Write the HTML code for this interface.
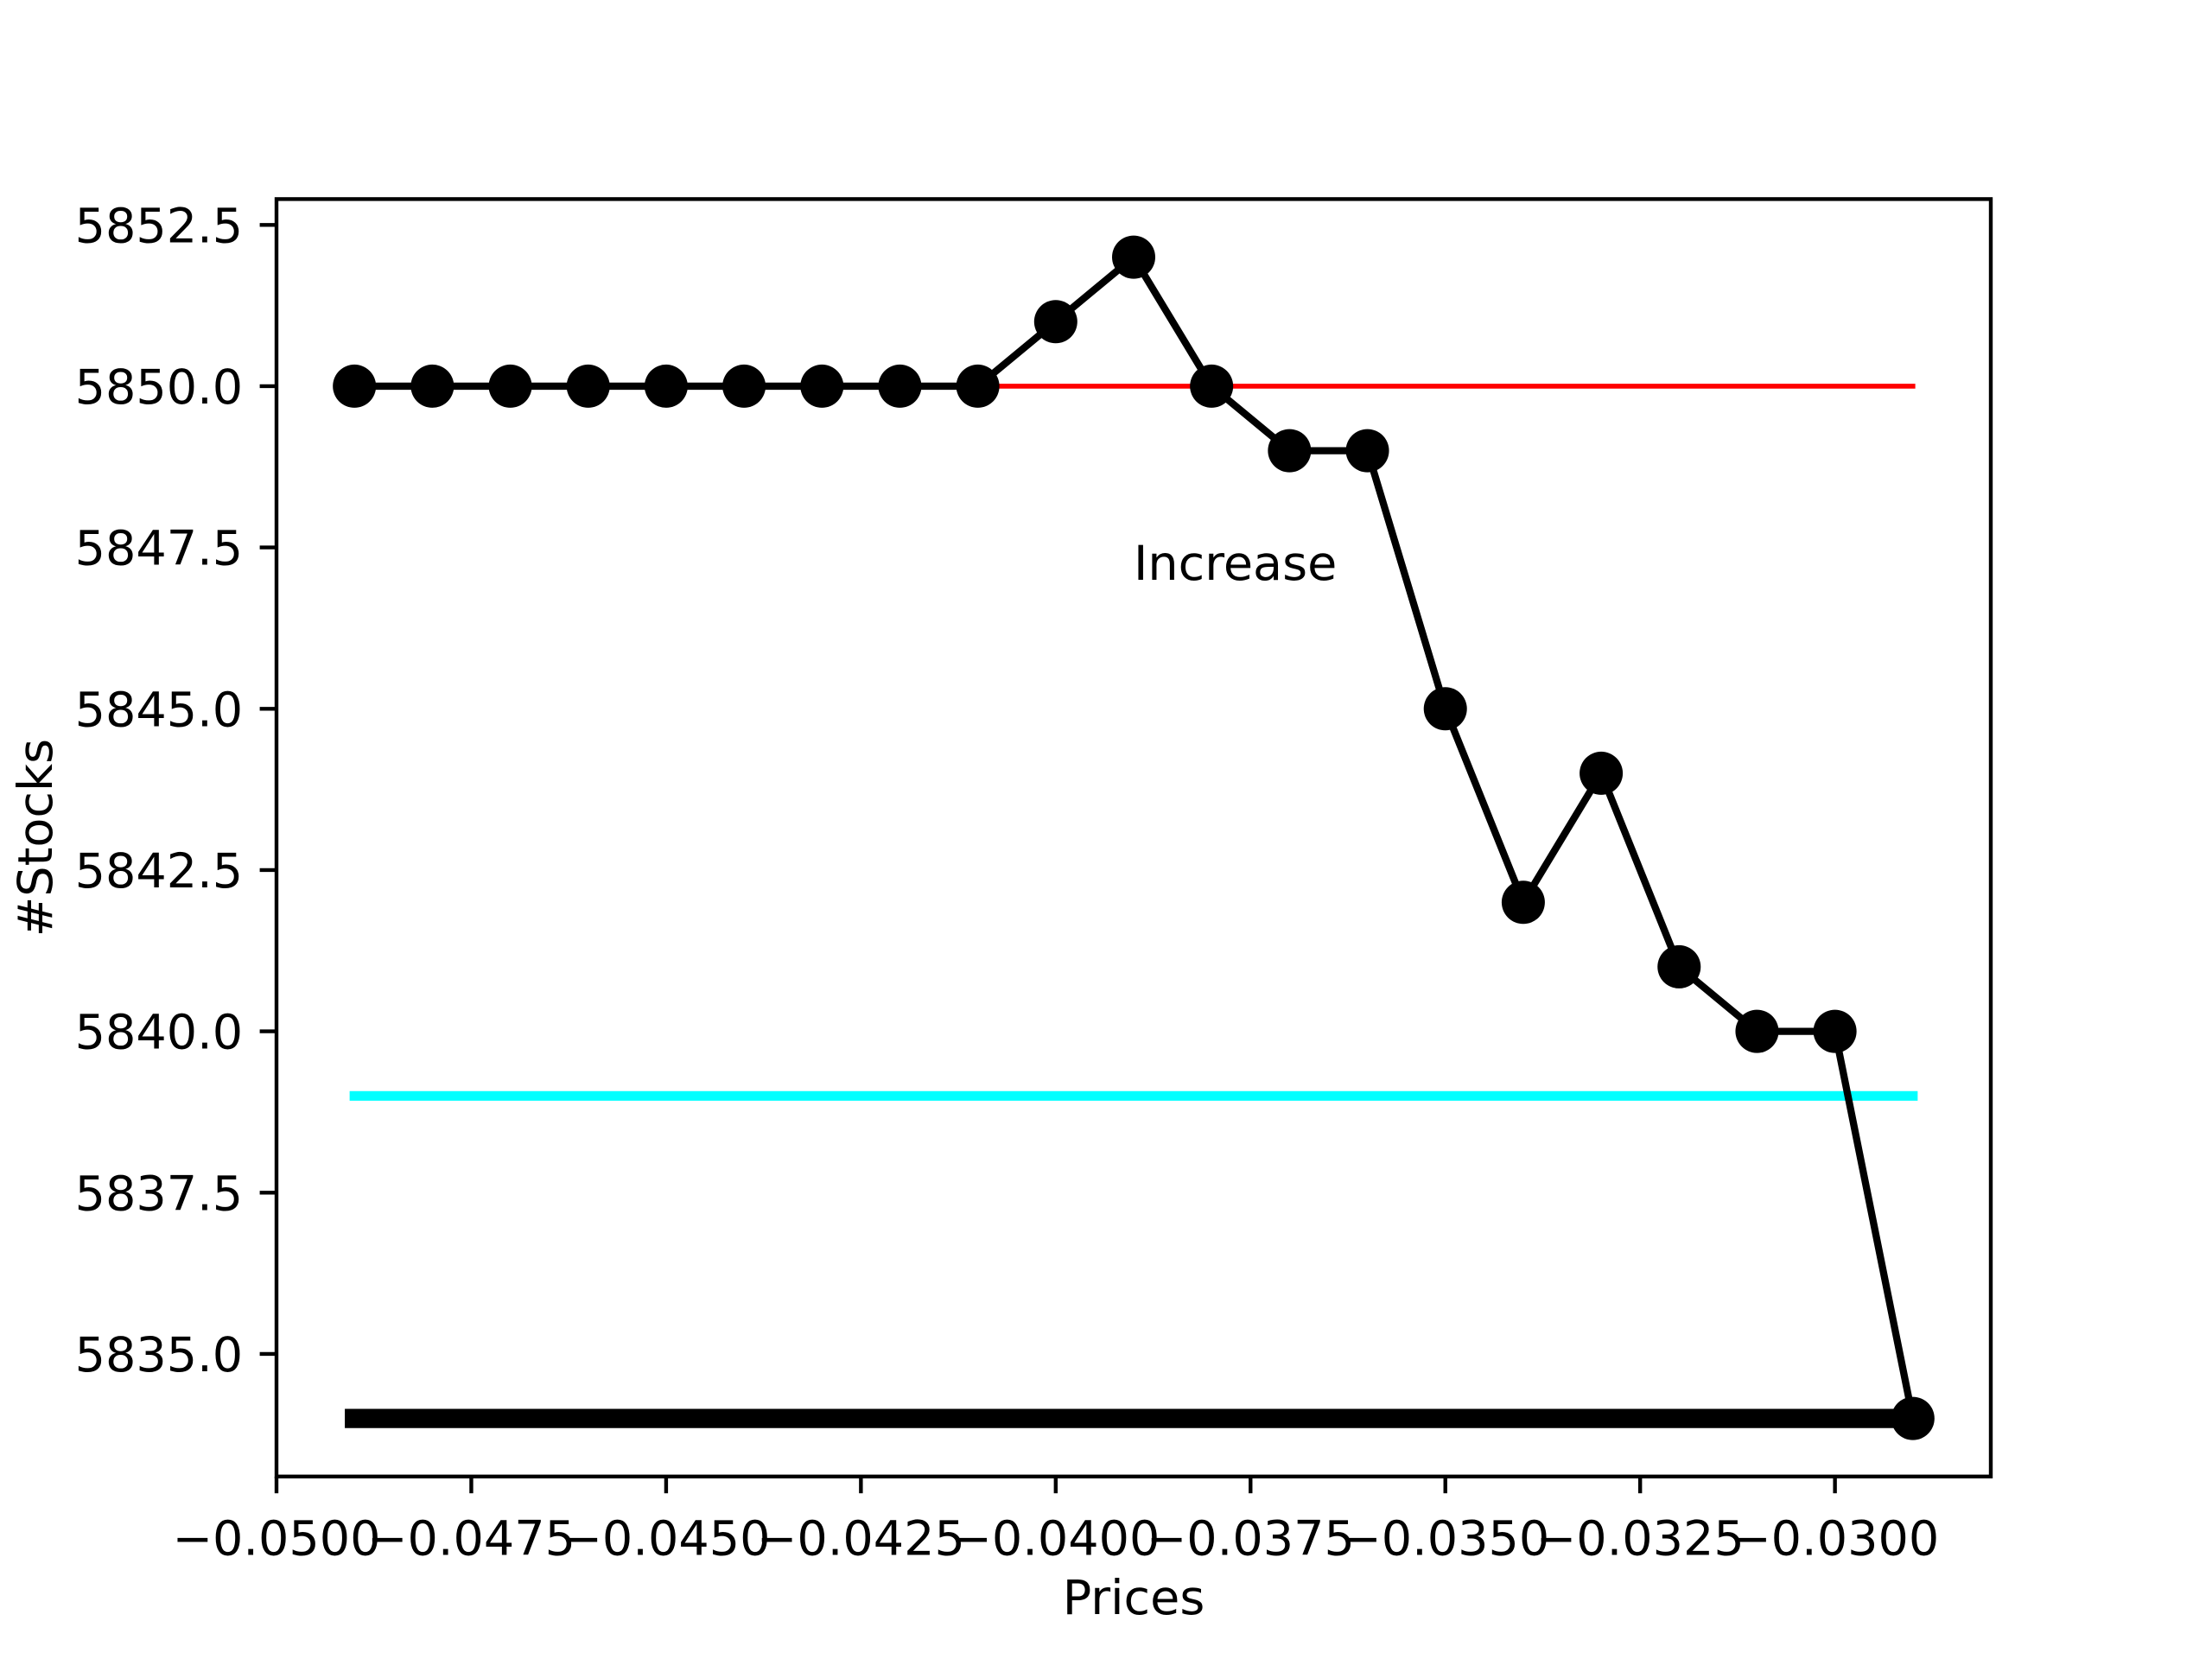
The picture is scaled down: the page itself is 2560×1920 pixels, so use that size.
<!DOCTYPE html>
<html><head><meta charset="utf-8"><style>
html,body{margin:0;padding:0;background:#fff}
svg{display:block}
text{font-family:"DejaVu Sans","Liberation Sans",sans-serif;fill:#000}
</style></head><body>
<svg id="chart" width="2560" height="1920" viewBox="0 0 2560 1920" xmlns="http://www.w3.org/2000/svg">
<rect x="0" y="0" width="2560" height="1920" fill="#fff"/>
<g id="plot"></g>
</svg>
<script>
const prices = [-0.049,-0.048,-0.047,-0.046,-0.045,-0.044,-0.043,-0.042,-0.041,-0.040,-0.039,-0.038,-0.037,-0.036,-0.035,-0.034,-0.033,-0.032,-0.031,-0.030,-0.029];
const stocks = [5850,5850,5850,5850,5850,5850,5850,5850,5850,5851,5852,5850,5849,5849,5845,5842,5844,5841,5840,5840,5834];
const redLineX = [-0.041,-0.029];
const redLineY = [5850,5850];
const cyanLineX = [-0.049,-0.029];
const cyanLineY = [5839,5839];
const blackLineX = [-0.049,-0.029];
const blackLineY = [5834,5834];
const xTicks = [-0.05,-0.0475,-0.045,-0.0425,-0.04,-0.0375,-0.035,-0.0325,-0.03];
const xTickLabels = ["\u22120.0500","\u22120.0475","\u22120.0450","\u22120.0425","\u22120.0400","\u22120.0375","\u22120.0350","\u22120.0325","\u22120.0300"];
const yTicks = [5835,5837.5,5840,5842.5,5845,5847.5,5850,5852.5];
const yTickLabels = ["5835.0","5837.5","5840.0","5842.5","5845.0","5847.5","5850.0","5852.5"];
const annotation = {x:-0.039, y:5847, text:"Increase"};

const L=320,R=2304,T=230.4,B=1708.8;
const xmin=-0.05,xmax=-0.028,ymin=5833.1,ymax=5852.9;
function sx(v){return L+(v-xmin)/(xmax-xmin)*(R-L);}
function sy(v){return B-(v-ymin)/(ymax-ymin)*(B-T);}
const NS="http://www.w3.org/2000/svg";
const g=document.getElementById('plot');
function mk(tag,attrs,parent){const e=document.createElementNS(NS,tag);for(const k in attrs)e.setAttribute(k,attrs[k]);(parent||g).appendChild(e);return e;}

function hline(xs,ys,color,w,name){
  const e=mk('polyline',{points:xs.map((x,i)=>sx(x)+','+sy(ys[i])).join(' '),fill:'none',stroke:color,'stroke-width':w,'stroke-linecap':'square'});
  
  
}
hline(redLineX,redLineY,'#ff0000',5.6,'red-reference-line');
hline(cyanLineX,cyanLineY,'#00ffff',11.1,'cyan-reference-line');
hline(blackLineX,blackLineY,'#000000',22.2,'black-baseline');

const series=mk('polyline',{points:prices.map((x,i)=>sx(x)+','+sy(stocks[i])).join(' '),fill:'none',stroke:'#000','stroke-width':8.3,'stroke-linejoin':'round'});


prices.forEach((x,i)=>{
  const c=mk('circle',{cx:sx(x),cy:sy(stocks[i]),r:25,fill:'#000'});
  
  
});

const ann=mk('text',{x:sx(annotation.x),y:sy(annotation.y),'font-size':55.6});
ann.textContent=annotation.text;



const frame=mk('rect',{x:L,y:T,width:R-L,height:B-T,fill:'none',stroke:'#000','stroke-width':4.4});



xTicks.forEach((v,i)=>{
  const t=mk('line',{x1:sx(v),x2:sx(v),y1:B,y2:B+19.4,stroke:'#000','stroke-width':4.4});
  
  
  const l=mk('text',{x:sx(v),y:B+38.8+52,'font-size':55.6,'text-anchor':'middle'});
  l.textContent=xTickLabels[i];
  
  
});
yTicks.forEach((v,i)=>{
  const t=mk('line',{x1:L-19.4,x2:L,y1:sy(v),y2:sy(v),stroke:'#000','stroke-width':4.4});
  
  
  const l=mk('text',{x:L-38.8,y:sy(v)+20,'font-size':55.6,'text-anchor':'end'});
  l.textContent=yTickLabels[i];
  
  
});
const xl=mk('text',{x:(L+R)/2,y:1868,'font-size':55.6,'text-anchor':'middle'});
xl.textContent='Prices';


const yl=mk('text',{x:0,y:0,'font-size':55.6,'text-anchor':'middle',transform:'translate(60,'+((T+B)/2)+') rotate(-90)'});
yl.textContent='#Stocks';


</script>
</body></html>
